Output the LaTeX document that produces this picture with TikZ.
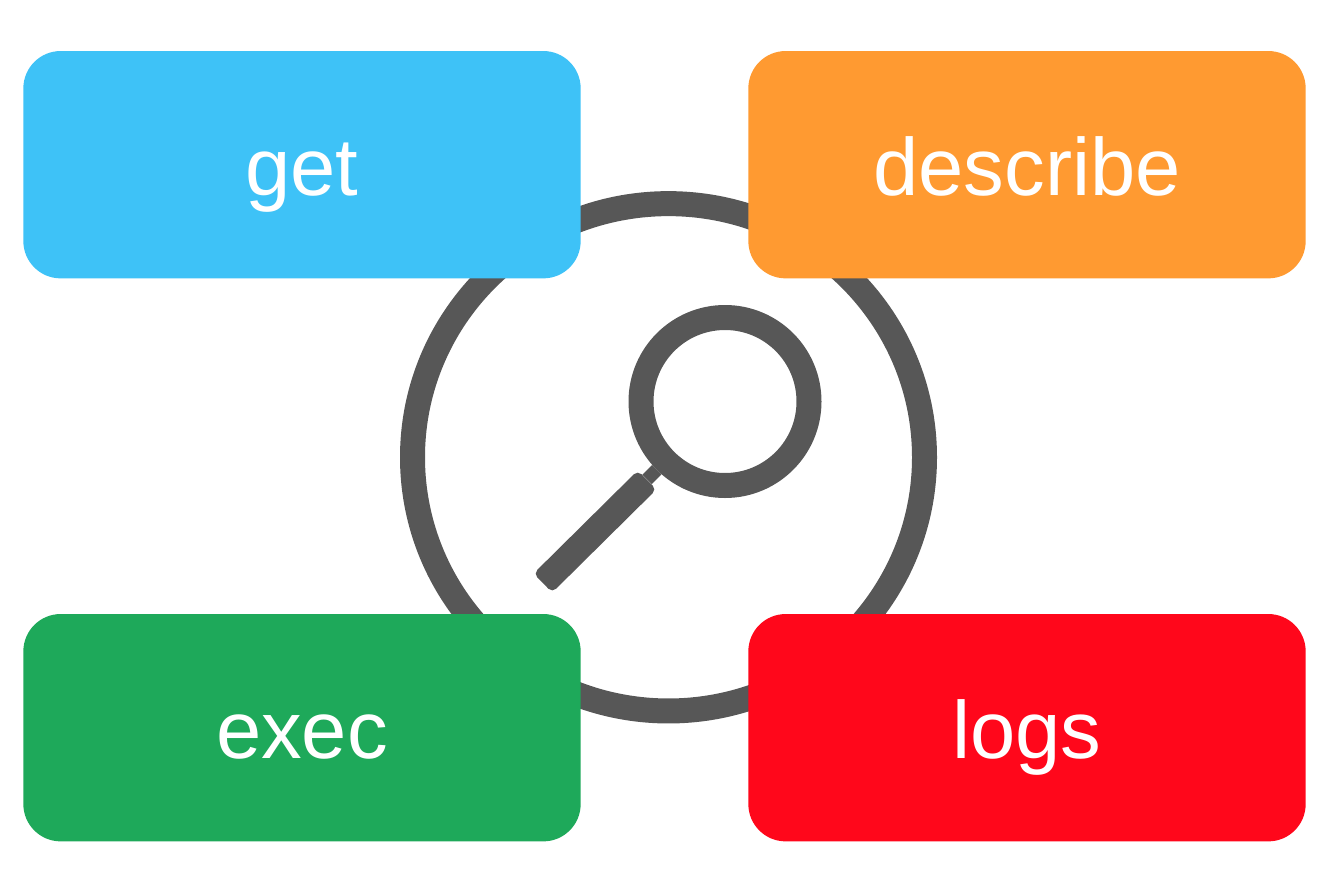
\documentclass[tikz,border=0pt]{standalone}
\usepackage{fontspec}
\setmainfont{Liberation Sans}
\usepackage{xcolor}
\usetikzlibrary{shapes.geometric}
\definecolor{getblue}{HTML}{3EC2F7}
\definecolor{descorange}{HTML}{FF9A31}
\definecolor{execgreen}{HTML}{1EA95A}
\definecolor{logsred}{HTML}{FF071B}
\definecolor{loupegray}{HTML}{575757}
\tikzset{
  cmdbox/.style={rectangle, rounded corners=28pt, minimum width=418pt, text height=108pt, text depth=62.5pt, text=white, font=\fontsize{61}{61}\selectfont, inner sep=0pt}
}
\begin{document}
\begin{tikzpicture}[x=0.75pt, y=-0.75pt]
    \useasboundingbox (0,0) rectangle (1332,871);
    % Ring and loupe
    \node (ring) [ellipse, draw=loupegray, line width=18.75pt, minimum width=384pt, minimum height=380.5pt, inner sep=0pt] at (668.5,457.3) {};
    \node (lens) [circle, draw=loupegray, line width=18.75pt, minimum size=126pt, inner sep=0pt] at (725,401.5) {};
    \node (grip) [rectangle, fill=loupegray, rounded corners=4pt, minimum width=110pt, minimum height=20pt, inner sep=0pt, rotate=44.7] at (595,531.5) {};
    \draw[loupegray, line width=10pt] (grip) -- (lens);
    % Nodes
    \node (get) [cmdbox, fill=getblue] at (302,164.7) {get};
    \node (describe) [cmdbox, fill=descorange] at (1027,164.7) {describe};
    \node (exec) [cmdbox, fill=execgreen] at (302,727.7) {exec};
    \node (logs) [cmdbox, fill=logsred] at (1027,727.7) {logs};
\end{tikzpicture}
\end{document}
